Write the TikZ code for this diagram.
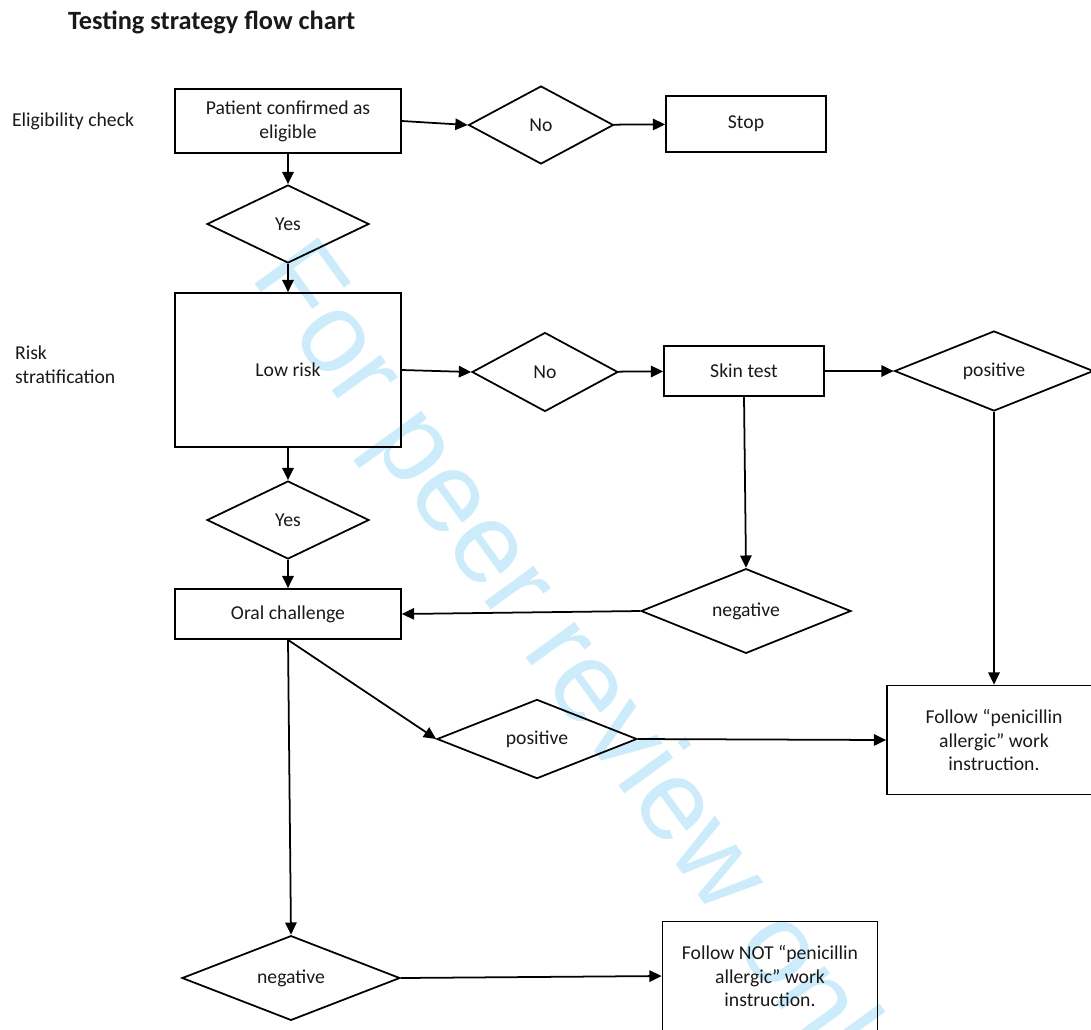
\documentclass[tikz,border=0pt]{standalone}
\usepackage{fontspec}
\setmainfont{Carlito}
\newfontfamily\markfont{Liberation Sans}
\usetikzlibrary{shapes.geometric,arrows.meta}
\definecolor{markblue}{RGB}{204,236,251}

\begin{document}
\begin{tikzpicture}[x=0.02cm,y=-0.02cm,
    every node/.style={font=\fontsize{11.2}{13.5}\selectfont,text=black!90,inner sep=1pt},
    box/.style={draw,line width=1pt,rectangle,align=center},
    decision/.style={draw,line width=1pt,diamond,inner sep=0pt,align=center},
    arrow/.style={line width=1pt,-{Triangle[length=7pt,width=6.5pt]}}]
    \useasboundingbox (0,0) rectangle (1091,1029);
    \node[font=\markfont\fontsize{65}{65}\selectfont,text=markblue,anchor=base west,rotate=-54] (mark) at (248,275) {For peer review only};
    \node[anchor=west,font=\bfseries\fontsize{15}{18}\selectfont] (title) at (66,22) {Testing strategy flow chart};
    \node[anchor=west] (elighead) at (10,121) {Eligibility check};
    \node[anchor=west,align=left] (riskhead) at (13,365) {Risk\\stratification};
    \node[box,minimum width=4.52cm,minimum height=1.28cm] (elig) at (288,121) {Patient confirmed as\\eligible};
    \node[decision,minimum width=2.9cm,minimum height=1.56cm] (no1) at (541,125) {No};
    \node[box,minimum width=3.2cm,minimum height=1.12cm] (stop) at (746,124) {Stop};
    \node[decision,minimum width=3.24cm,minimum height=1.56cm] (yes1) at (288,224) {Yes};
    \node[box,minimum width=4.52cm,minimum height=3.08cm] (low) at (288,370) {Low risk};
    \node[decision,minimum width=2.92cm,minimum height=1.58cm] (no2) at (545,372) {No};
    \node[box,minimum width=3.2cm,minimum height=1cm] (skin) at (744,371) {Skin test};
    \node[decision,minimum width=3.98cm,minimum height=1.6cm] (pos1) at (994,371) {positive};
    \node[decision,minimum width=3.24cm,minimum height=1.56cm] (yes2) at (288,520) {Yes};
    \node[box,minimum width=4.52cm,minimum height=1cm] (oral) at (288,614) {Oral challenge};
    \node[decision,minimum width=4.2cm,minimum height=1.58cm] (neg1) at (746,611) {negative};
    \node[decision,minimum width=4cm,minimum height=1.58cm] (pos2) at (537,739) {positive};
    \node[box,minimum width=4.28cm,minimum height=2.18cm] (follow) at (994,740) {Follow “penicillin\\allergic” work\\instruction.};
    \node[decision,minimum width=4.36cm,minimum height=1.58cm] (neg2) at (291,978) {negative};
    \node[box,minimum width=4.3cm,minimum height=2.18cm] (notfollow) at (770,976) {Follow NOT “penicillin\\allergic” work\\instruction.};
    \draw[arrow] (elig.east) -- (no1.west);
    \draw[arrow] (no1) -- (stop);
    \draw[arrow] (elig) -- (yes1);
    \draw[arrow] (yes1) -- (low);
    \draw[arrow] (low.east) -- (no2.west);
    \draw[arrow] (no2) -- (skin);
    \draw[arrow] (skin) -- (pos1);
    \draw[arrow] (skin.south) -- (neg1.north);
    \draw[arrow] (neg1.west) -- (oral.east);
    \draw[arrow] (pos1.south) -- (follow.north);
    \draw[arrow] (low) -- (yes2);
    \draw[arrow] (yes2) -- (oral);
    \draw[arrow] (oral.south) -- (pos2.west);
    \draw[arrow] (oral.south) -- (neg2.north);
    \draw[arrow] (pos2.east) -- (follow.west);
    \draw[arrow] (neg2.east) -- (notfollow.west);
\end{tikzpicture}
\end{document}
